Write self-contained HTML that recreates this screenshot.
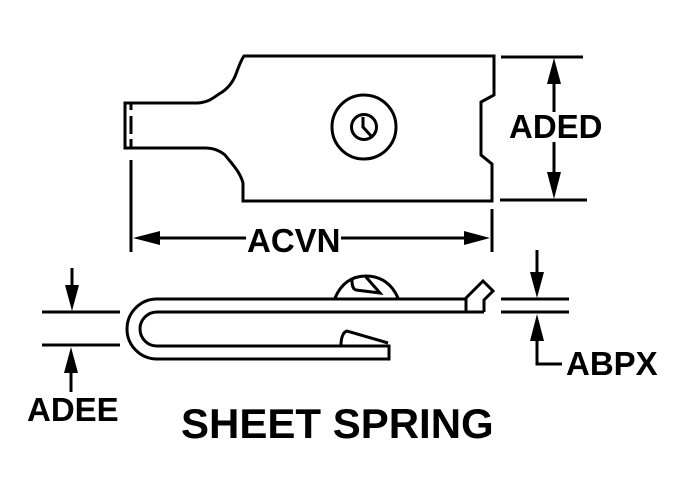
<!DOCTYPE html>
<html>
<head>
<meta charset="utf-8">
<style>
html,body{margin:0;padding:0;background:#fff;}
svg{display:block;}
text{font-family:"Liberation Sans",Arial,sans-serif;font-weight:bold;fill:#000;}
</style>
</head>
<body>
<svg width="690" height="483" viewBox="0 0 690 483" xmlns="http://www.w3.org/2000/svg">
<g fill="none" stroke="#000" stroke-width="3">
<!-- top view outline -->
<path d="M244 56H494V95L481 102V155L492 164V201H243V183C240 172 233 165 225 155C219 150 213 148 205 148H125V103H198C208 102 212 99 219 94C228 89 233 82 236 74C239 66 241 60 244 56Z"/>
<path d="M131 104V110M131 116V134M131 139V148"/>
<circle cx="364" cy="127" r="32"/>
<circle cx="364" cy="127" r="12.5"/>
<path d="M363 117V127L372 137"/>
<!-- ACVN dims -->
<path d="M131 160V252M492 209V252M160 238H246M341 238H464"/>
<!-- ADED dims -->
<path d="M501 57H583M500 200H587M554 84V112M554 142V172"/>
<!-- side view -->
<path d="M466 299H157A30 30 0 0 0 157 359H389V346H157A17 17 0 0 1 157 312H484"/>
<path d="M466 312V298L483 281L493 291L484 300V312"/>
<path d="M335 298C341 284 351 276 366 276C381 276 392 284 398 298"/>
<path d="M352 280C352 286 353 289 356 290L380 293L366 277"/>
<path d="M341 345C341 338 343 332 347 331L388 343"/>
<!-- ADEE dims -->
<path d="M42 312H120M42 345H120M72 268V286M71 372V392"/>
<!-- ABPX dims -->
<path d="M501 299H569M501 312H569M537 250V272M537 340V364H562"/>
</g>
<g fill="#000">
<path d="M133 238L160 231V245Z"/>
<path d="M490 238L464 231V245Z"/>
<path d="M554 58L547 84H561Z"/>
<path d="M554 199L547 172H561Z"/>
<path d="M72 311L65 285H79Z"/>
<path d="M71 347L64 373H78Z"/>
<path d="M537 298L530 272H544Z"/>
<path d="M537 314L530 341H544Z"/>
</g>
<text x="247" y="252" font-size="33">ACVN</text>
<text x="509" y="138" font-size="33">ADED</text>
<text x="27" y="421" font-size="33">ADEE</text>
<text x="566" y="375" font-size="33">ABPX</text>
<text x="181" y="438" font-size="42">SHEET SPRING</text>
</svg>
</body>
</html>
